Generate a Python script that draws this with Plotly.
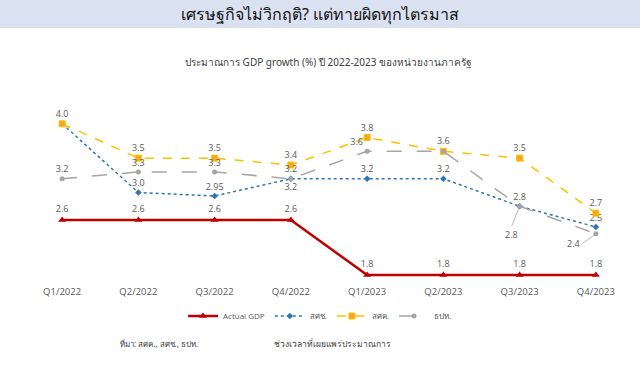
import plotly.graph_objects as go

quarters = ["Q1/2022", "Q2/2022", "Q3/2022", "Q4/2022", "Q1/2023", "Q2/2023", "Q3/2023", "Q4/2023"]
actual_gdp = [2.6, 2.6, 2.6, 2.6, 1.8, 1.8, 1.8, 1.8]
nesdc = [4.0, 3.0, 2.95, 3.2, 3.2, 3.2, 2.8, 2.5]      # สศช.
fpo = [4.0, 3.5, 3.5, 3.4, 3.8, 3.6, 3.5, 2.7]         # สศค.
bot = [3.2, 3.3, 3.3, 3.2, 3.6, 3.6, 2.8, 2.4]         # ธปท.

nesdc_text = ["", "3.0", "2.95", "3.2", "3.2", "3.2", "", "2.5"]
nesdc_pos = ["top center", "top center", "top center", "bottom center", "top center", "top center", "top center", "top center"]
fpo_text = ["4.0", "3.5", "3.5", "3.4", "3.8", "3.6", "3.5", "2.7"]
bot_text = ["3.2", "3.3", "3.3", "3.2", "3.6", "", "2.8", ""]
bot_pos = ["top center", "top center", "top center", "top center", "top left", "top center", "top center", "top center"]
actual_text = ["2.6", "2.6", "2.6", "2.6", "1.8", "1.8", "1.8", "1.8"]

x = list(range(len(quarters)))
lab_font = dict(family="Open Sans", size=9, color="#595959")

W, H = 640, 375
L, R, T, B = 24, 6, 110, 91
PW, PH = W - L - R, H - T - B


def px(xp):
    return (xp - L) / PW


def py(yp):
    return (H - B - yp) / PH


fig = go.Figure()
fig.add_trace(go.Scatter(
    x=x, y=actual_gdp, name="Actual GDP", mode="lines+markers+text",
    line=dict(color="#c00000", width=2.5), marker=dict(symbol="triangle-up", size=7, color="#c00000"),
    text=actual_text, textposition="top center", textfont=lab_font, cliponaxis=False))
fig.add_trace(go.Scatter(
    x=x, y=nesdc, name="สศช.", mode="lines+markers+text",
    line=dict(color="#2e75b6", width=1.5, dash="dot"), marker=dict(symbol="diamond", size=5, color="#2e75b6"),
    text=nesdc_text, textposition=nesdc_pos, textfont=lab_font, cliponaxis=False))
fig.add_trace(go.Scatter(
    x=x, y=fpo, name="สศค.", mode="lines+markers+text",
    line=dict(color="#ffc000", width=1.5, dash="dash"),
    marker=dict(symbol="square", size=6, color="#f5a623", line=dict(color="#ffc000", width=1)),
    text=fpo_text, textposition="top center", textfont=lab_font, cliponaxis=False))
fig.add_trace(go.Scatter(
    x=x, y=bot, name="ธปท.", mode="lines+markers+text",
    line=dict(color="#a5a5a5", width=1.5, dash="longdash"), marker=dict(symbol="circle", size=5, color="#a5a5a5"),
    text=bot_text, textposition=bot_pos, textfont=lab_font, cliponaxis=False))

# labels with leader lines
fig.add_annotation(x=6, y=nesdc[6], text=f"{nesdc[6]:.1f}", showarrow=True, arrowhead=0, arrowwidth=0.8,
                   arrowcolor="#a5a5a5", ax=-8, ay=20, font=lab_font, xanchor="center", yanchor="top")
fig.add_annotation(x=7, y=bot[7], text=f"{bot[7]:.1f}", showarrow=True, arrowhead=0, arrowwidth=0.8,
                   arrowcolor="#a5a5a5", ax=-14, ay=10, font=lab_font, xanchor="right", yanchor="middle")

# header band
fig.add_shape(type="rect", xref="paper", yref="paper", x0=px(0), x1=px(W), y0=py(28), y1=py(0),
              fillcolor="#dae2f1", line=dict(width=0), layer="below")

fig.add_annotation(xref="paper", yref="paper", x=px(320), y=py(14),
                   text="เศรษฐกิจไม่วิกฤติ? แต่ทายผิดทุกไตรมาส", showarrow=False,
                   font=dict(family="Noto Sans", size=16, color="#111111"), xanchor="center", yanchor="middle")
fig.add_annotation(xref="paper", yref="paper", x=px(328), y=py(62),
                   text="ประมาณการ GDP growth (%) ปี 2022-2023 ของหน่วยงานภาครัฐ", showarrow=False,
                   font=dict(family="Noto Sans", size=10, color="#404040"), xanchor="center", yanchor="middle")
fig.add_annotation(xref="paper", yref="paper", x=px(118), y=py(343),
                   text="ที่มา: สศค., สศช., ธปท.", showarrow=False,
                   font=dict(family="Noto Sans", size=8, color="#404040"), xanchor="left", yanchor="middle")
fig.add_annotation(xref="paper", yref="paper", x=px(332), y=py(343),
                   text="ช่วงเวลาที่เผยแพร่ประมาณการ", showarrow=False,
                   font=dict(family="Noto Sans", size=8.5, color="#404040"), xanchor="center", yanchor="middle")

fig.update_layout(
    width=W, height=H,
    margin=dict(l=L, r=R, t=T, b=B),
    paper_bgcolor="white", plot_bgcolor="white",
    showlegend=True,
    legend=dict(orientation="h", x=px(320), xanchor="center", y=py(316), yanchor="middle",
                font=dict(family="Open Sans", size=8, color="#595959"), itemwidth=30, tracegroupgap=0),
    xaxis=dict(range=[-0.5, 7.5], tickmode="array", tickvals=x, ticktext=quarters, showgrid=False,
               zeroline=False, showline=False, ticks="", ticklabelstandoff=0,
               tickfont=dict(family="Open Sans", size=9.5, color="#595959")),
    yaxis=dict(range=[1.67, 4.2], visible=False),
)

fig.write_html("out.html", config={"displayModeBar": False},
               post_script="document.body.style.margin='0';")
